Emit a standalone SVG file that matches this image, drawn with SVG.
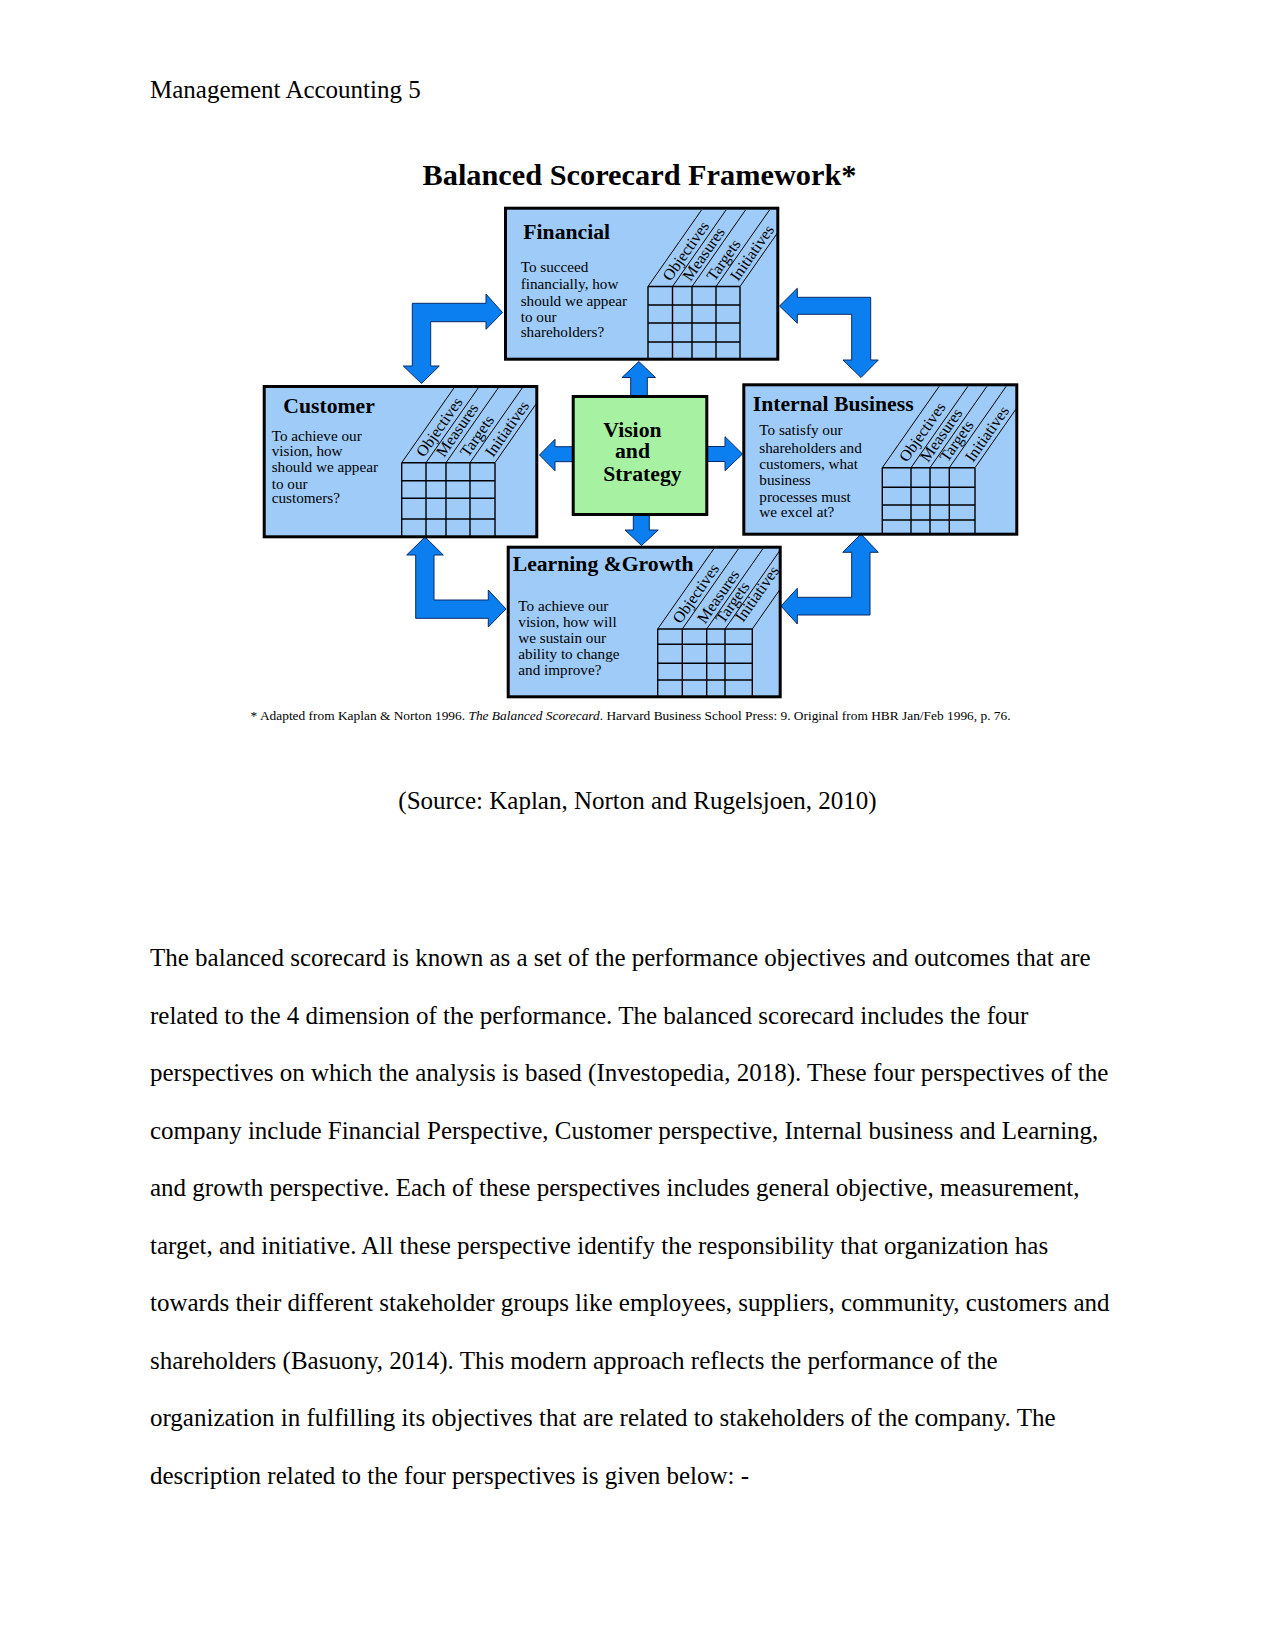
<svg xmlns="http://www.w3.org/2000/svg" width="1275" height="1651" viewBox="0 0 1275 1651">
<style>
.page{font-family:"Liberation Serif",serif;font-size:25px;fill:#000}
.box{fill:#9ecbf8;stroke:#000;stroke-width:3}
.vis{fill:#a6f2a2;stroke:#000;stroke-width:3}
.grid{stroke:#000;stroke-width:1.4;fill:none}
.diag{stroke:#000;stroke-width:1;fill:none}
.arrow{fill:#0b7ff0;stroke:#0a2a66;stroke-width:1;stroke-linejoin:miter}
.ttl{font-family:"Liberation Serif",serif;font-weight:bold;font-size:21.7px;fill:#000}
.body{font-family:"Liberation Serif",serif;font-size:15.2px;fill:#000}
.lbl{font-family:"Liberation Serif",serif;font-size:16px;fill:#000}
.foot{font-family:"Liberation Serif",serif;font-size:12.5px;fill:#000}
</style>
<rect width="1275" height="1651" fill="#fff"/>
<text class="page" x="150" y="97.5">Management Accounting 5</text>
<text x="422.5" y="185" font-family="Liberation Serif,serif" font-weight="bold" font-size="30" textLength="434" lengthAdjust="spacingAndGlyphs">Balanced Scorecard Framework*</text>

<g id="connectors">
<polygon class="arrow" points="638.8,361.5 655.5,377.5 647.3,377.5 647.3,396 630.7,396 630.7,377.5 622,377.5"/>
<polygon class="arrow" points="539.5,455 555,439.3 555,446.7 573,446.7 573,461.7 555,461.7 555,470.7"/>
<polygon class="arrow" points="707,446.5 725,446.5 725,436.7 742.5,454 725,470.7 725,461.5 707,461.5"/>
<polygon class="arrow" points="633.3,515 649.3,515 649.3,530 658.3,530 641.5,545.5 625,530 633.3,530"/>
<polygon class="arrow" points="412.3,303.3 486,303.3 486,294 502.5,312.5 486,329.3 486,321.7 430.7,321.7 430.7,366 439.3,366 421.5,383.5 403.3,366 412.3,366"/>
<polygon class="arrow" points="779.5,306 797.3,288.3 797.3,297.3 870.7,297.3 870.7,360 878.3,360 861,377.5 843,360 851.7,360 851.7,314.3 797.3,314.3 797.3,323.3"/>
<polygon class="arrow" points="425,537 443.3,555 434,555 434,600 488.3,600 488.3,590 506,609 488.3,627 488.3,618.3 415.7,618.3 415.7,555 406.7,555"/>
<polygon class="arrow" points="861,534 878.3,552.3 870,552.3 870,615 797.3,615 797.3,624 781,606 797.3,588.3 797.3,597.3 851.7,597.3 851.7,552.3 842.7,552.3"/>
</g>

<g id="node-financial">
<rect class="box" x="505.5" y="208.2" width="272.3" height="151"/>
<text class="ttl" x="523.3" y="239.3">Financial</text>
<text class="body" x="520.7" y="272.3">To succeed</text>
<text class="body" x="520.7" y="289">financially, how</text>
<text class="body" x="520.7" y="305.7">should we appear</text>
<text class="body" x="520.7" y="321.7">to our</text>
<text class="body" x="520.7" y="337.3">shareholders?</text>
<path class="grid" d="M648,286.5H740M648,305H740M648,323H740M648,342H740M648,286.5V359M672.5,286.5V359M692,286.5V359M716,286.5V359M740,286.5V359"/>
<path class="diag" d="M648,286.5L701.5,210M672.5,286.5L726,210M692,286.5L745.5,210M716,286.5L769.5,210M740,286.5L777.5,232.9"/>
<text class="lbl" transform="translate(670.5,282) rotate(-55)">Objectives</text>
<text class="lbl" transform="translate(690.5,282) rotate(-55)">Measures</text>
<text class="lbl" transform="translate(714.5,282) rotate(-55)">Targets</text>
<text class="lbl" transform="translate(738,282) rotate(-55)">Initiatives</text>
</g>

<g id="node-customer">
<rect class="box" x="264.2" y="386.5" width="272.6" height="150.3"/>
<text class="ttl" x="283.3" y="413.3">Customer</text>
<text class="body" x="271.7" y="440.7">To achieve our</text>
<text class="body" x="271.7" y="455.7">vision, how</text>
<text class="body" x="271.7" y="472.3">should we appear</text>
<text class="body" x="271.7" y="489">to our</text>
<text class="body" x="271.7" y="503.3">customers?</text>
<path class="grid" d="M401.7,462.7H495M401.7,480.7H495M401.7,498.3H495M401.7,519H495M401.7,462.7V537M426,462.7V537M446,462.7V537M470,462.7V537M495,462.7V537"/>
<path class="diag" d="M401.7,462.7L453.9,388M426,462.7L478.2,388M446,462.7L498.2,388M470,462.7L522.2,388M495,462.7L536.8,402.9"/>
<text class="lbl" transform="translate(424,458) rotate(-55)">Objectives</text>
<text class="lbl" transform="translate(444,458) rotate(-55)">Measures</text>
<text class="lbl" transform="translate(468,458) rotate(-55)">Targets</text>
<text class="lbl" transform="translate(493,458) rotate(-55)">Initiatives</text>
</g>

<g id="node-internal">
<rect class="box" x="743.8" y="384.8" width="273" height="149.4"/>
<text class="ttl" x="752.7" y="410.7">Internal Business</text>
<text class="body" x="759.3" y="435">To satisfy our</text>
<text class="body" x="759.3" y="452.7">shareholders and</text>
<text class="body" x="759.3" y="469.3">customers, what</text>
<text class="body" x="759.3" y="485">business</text>
<text class="body" x="759.3" y="501.7">processes must</text>
<text class="body" x="759.3" y="517.3">we excel at?</text>
<path class="grid" d="M882.3,467.7H975M882.3,487.3H975M882.3,505H975M882.3,520H975M882.3,467.7V534.2M911,467.7V534.2M930,467.7V534.2M949.3,467.7V534.2M975,467.7V534.2"/>
<path class="diag" d="M882.3,467.7L939.2,386.3M911,467.7L967.9,386.3M930,467.7L986.9,386.3M949.3,467.7L1006.2,386.3M975,467.7L1016.8,407.9"/>
<text class="lbl" transform="translate(907,463) rotate(-55)">Objectives</text>
<text class="lbl" transform="translate(928,463) rotate(-55)">Measures</text>
<text class="lbl" transform="translate(947.5,463) rotate(-55)">Targets</text>
<text class="lbl" transform="translate(973,463) rotate(-55)">Initiatives</text>
</g>

<g id="node-learning">
<rect class="box" x="508.2" y="547.2" width="272" height="149.6"/>
<text class="ttl" x="512.7" y="570.7">Learning &amp;Growth</text>
<text class="body" x="518.3" y="610.7">To achieve our</text>
<text class="body" x="518.3" y="626.7">vision, how will</text>
<text class="body" x="518.3" y="642.7">we sustain our</text>
<text class="body" x="518.3" y="659">ability to change</text>
<text class="body" x="518.3" y="675">and improve?</text>
<path class="grid" d="M657.7,629H752.3M657.7,644.3H752.3M657.7,663.3H752.3M657.7,680H752.3M657.7,629V696.8M682.3,629V696.8M706.7,629V696.8M725,629V696.8M752.3,629V696.8"/>
<path class="diag" d="M657.7,629L713.9,548.7M682.3,629L738.5,548.7M706.7,629L762.9,548.7M725,629L780.2,550.1M752.3,629L780.2,589.1"/>
<text class="lbl" transform="translate(680.5,624.5) rotate(-55)">Objectives</text>
<text class="lbl" transform="translate(705,624.5) rotate(-55)">Measures</text>
<text class="lbl" transform="translate(723.5,624.5) rotate(-55)">Targets</text>
<text class="lbl" transform="translate(743,623) rotate(-55)">Initiatives</text>
</g>

<g id="node-vision">
<rect class="vis" x="573.2" y="396.5" width="133.6" height="118"/>
<text class="ttl" x="603.3" y="436.7">Vision</text>
<text class="ttl" x="615" y="458.3">and</text>
<text class="ttl" x="603.3" y="480.7">Strategy</text>
</g>

<text class="foot" x="250.6" y="720" textLength="760" lengthAdjust="spacingAndGlyphs">* Adapted from Kaplan &amp; Norton 1996.  <tspan font-style="italic">The Balanced Scorecard</tspan>.  Harvard Business School Press: 9.  Original from HBR Jan/Feb 1996, p. 76.</text>

<text class="page" x="637.5" y="809" text-anchor="middle">(Source: Kaplan, Norton and Rugelsjoen, 2010)</text>

<g id="body-text">
<text class="page" x="150" y="966">The balanced scorecard is known as a set of the performance objectives and outcomes that are</text>
<text class="page" x="150" y="1023.5">related to the 4 dimension of the performance. The balanced scorecard includes the four</text>
<text class="page" x="150" y="1081">perspectives on which the analysis is based (Investopedia, 2018). These four perspectives of the</text>
<text class="page" x="150" y="1138.5">company include Financial Perspective, Customer perspective, Internal business and Learning,</text>
<text class="page" x="150" y="1196">and growth perspective. Each of these perspectives includes general objective, measurement,</text>
<text class="page" x="150" y="1253.5">target, and initiative. All these perspective identify the responsibility that organization has</text>
<text class="page" x="150" y="1311">towards their different stakeholder groups like employees, suppliers, community, customers and</text>
<text class="page" x="150" y="1368.5">shareholders (Basuony, 2014). This modern approach reflects the performance of the</text>
<text class="page" x="150" y="1426">organization in fulfilling its objectives that are related to stakeholders of the company. The</text>
<text class="page" x="150" y="1483.5">description related to the four perspectives is given below: -</text>
</g>
</svg>
